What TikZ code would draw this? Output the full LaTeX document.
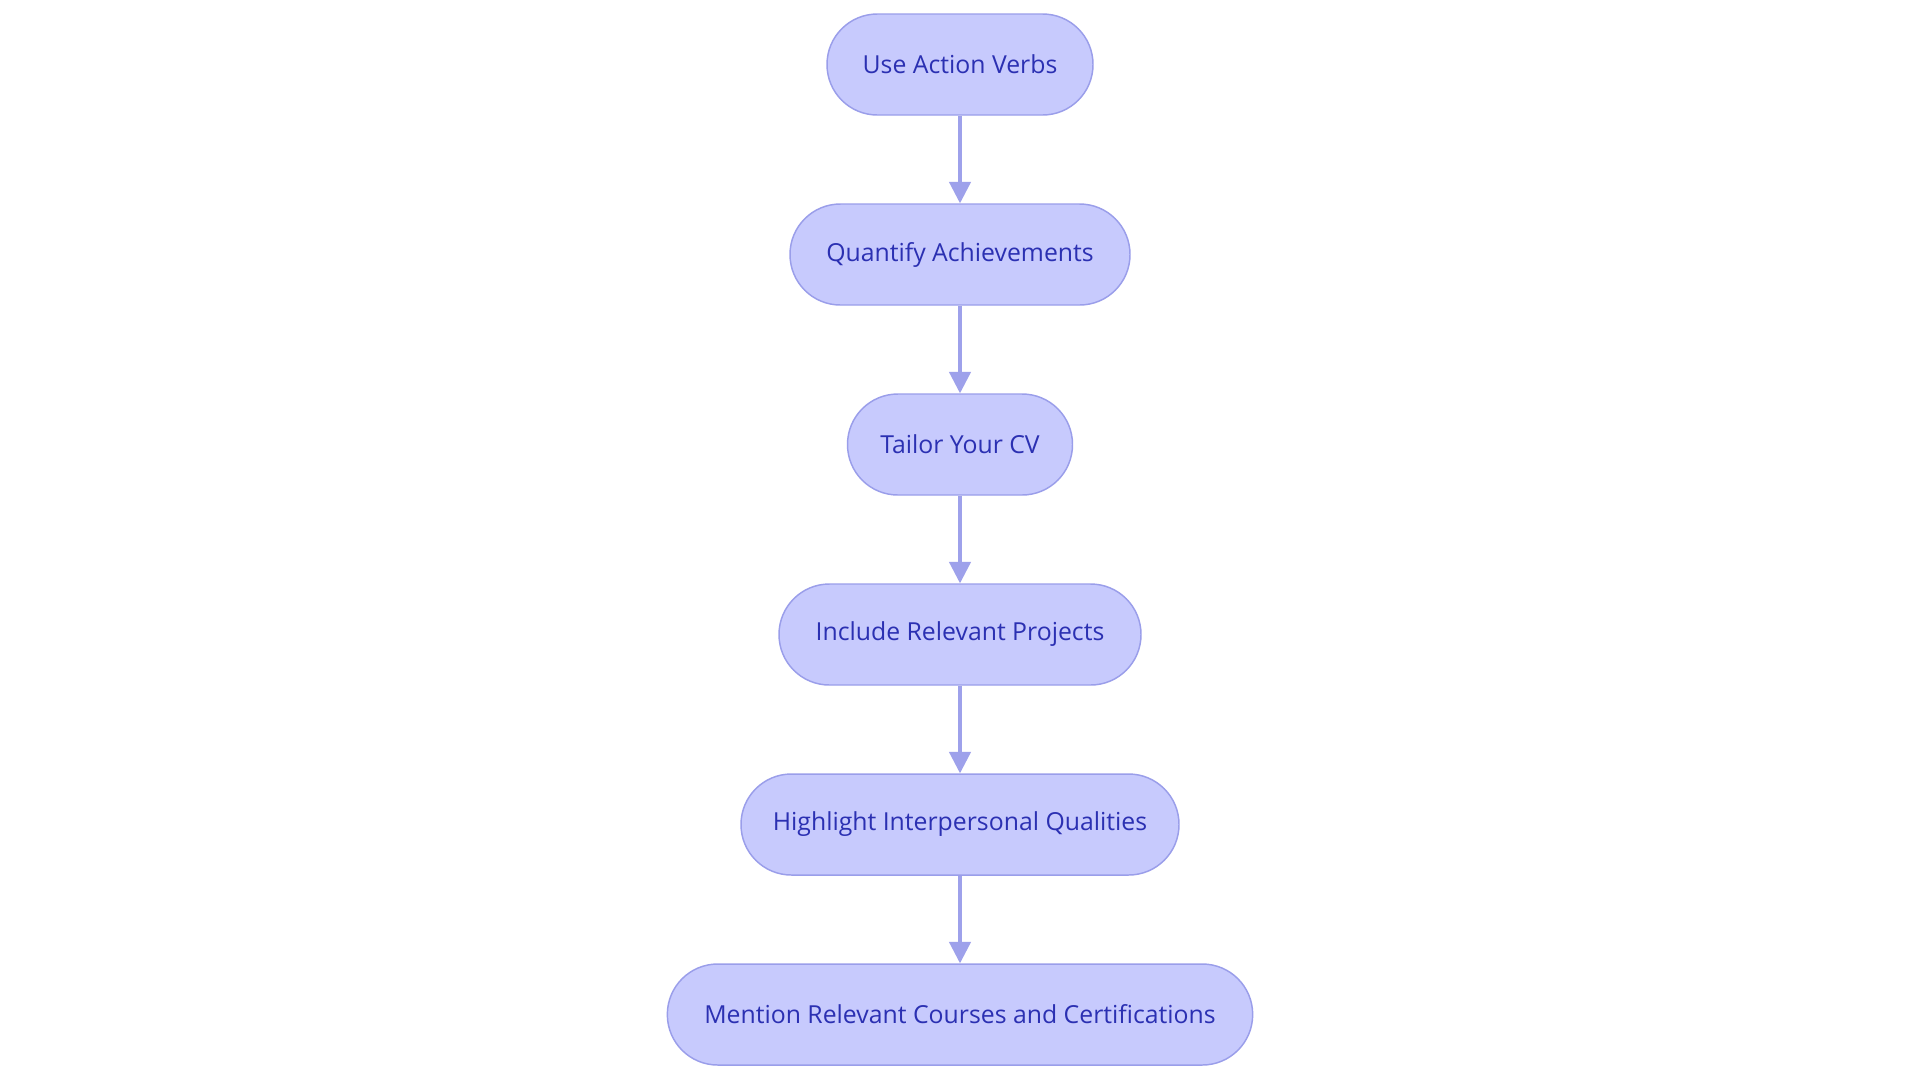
\documentclass[tikz,border=0pt]{standalone}
\usepackage{fontspec}
\setmainfont{Open Sans}
\usetikzlibrary{arrows.meta}
\definecolor{boxfill}{HTML}{C7CAFD}
\definecolor{boxline}{HTML}{9A9EEA}
\definecolor{boxtext}{HTML}{2B30B2}
\definecolor{flow}{HTML}{9EA1EB}
\tikzset{
  step box/.style={draw=boxline, fill=boxfill, line width=1.1pt, rounded corners=37.8pt,
    minimum height=75.75pt, text=boxtext, font=\fontsize{18.6}{22}\selectfont, inner sep=0pt},
  flowline/.style={draw=flow, line width=2.3pt, -{Triangle[width=16pt,length=16pt]}},
}
\begin{document}
\begin{tikzpicture}[x=0.75pt, y=-0.75pt]
  \useasboundingbox[fill=white] (0,0) rectangle (1920,1083);

  % steps
  \node[step box, minimum width=199.5pt] (verbs) at (960,64.5) {Use Action Verbs};
  \node[step box, minimum width=255pt] (quant) at (960,254.5) {Quantify Achievements};
  \node[step box, minimum width=168.75pt] (tailor) at (960,444.5) {Tailor Your CV};
  \node[step box, minimum width=271.5pt] (proj) at (960,634.5) {Include Relevant Projects};
  \node[step box, minimum width=328.5pt] (qual) at (960,824.5) {Highlight Interpersonal Qualities};
  \node[step box, minimum width=439pt] (cert) at (960,1014.5) {Mention Relevant Courses and Certifications};

  % arrows
  \draw[flowline] (verbs) -- (quant);
  \draw[flowline] (quant) -- (tailor);
  \draw[flowline] (tailor) -- (proj);
  \draw[flowline] (proj) -- (qual);
  \draw[flowline] (qual) -- (cert);
\end{tikzpicture}
\end{document}
